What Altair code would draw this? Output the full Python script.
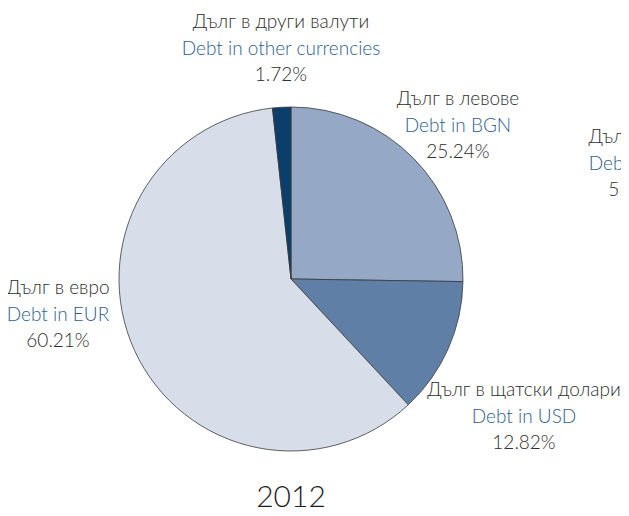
import altair as alt
import pandas as pd

# Data
categories_bg = ["Дълг в левове", "Дълг в щатски долари", "Дълг в евро", "Дълг в други валути"]
categories_en = ["Debt in BGN", "Debt in USD", "Debt in EUR", "Debt in other currencies"]
shares = [25.24, 12.82, 60.21, 1.72]
share_labels = ["25.24%", "12.82%", "60.21%", "1.72%"]
year_label = "2012"
colors = ["#95a8c6", "#5f7fa7", "#d7dde9", "#0b3e6b"]

# partially visible neighbouring chart (clipped at right edge)
next_bg = "Дълг в евро"
next_en = "Debt in EUR"
next_pct = "55.53%"

df = pd.DataFrame({
    "cat": categories_en,
    "share": shares,
    "order": list(range(len(shares))),
})

W, H = 613, 500
CX, CY, R = 283, 271, 172

pie = alt.Chart(df).mark_arc(
    radius=R, stroke="#3a3a3a", strokeWidth=0.8
).encode(
    theta=alt.Theta("share:Q", stack=True),
    order=alt.Order("order:Q"),
    color=alt.Color("cat:N", scale=alt.Scale(domain=categories_en, range=colors), legend=None),
    x=alt.value(CX),
    y=alt.value(CY),
)

FONT = "Lato Light, Lato"
FS = 19
GRAY = "#2e2e2e"
BLUE = "#2f5f90"

# label anchor positions (layout), index matches categories
anchors = [(450, 91), (516, 382), (50, 280), (273, 14)]

layers = [pie]
base = alt.Chart(pd.DataFrame({"a": [0]}))

def label(x, y, t1, t2, t3):
    out = []
    for i, (t, c) in enumerate([(t1, GRAY), (t2, BLUE), (t3, GRAY)]):
        out.append(
            base.mark_text(font=FONT, fontSize=FS, fontWeight=300, color=c,
                           align="center", baseline="middle").encode(
                x=alt.value(x), y=alt.value(y + i * 26.5), text=alt.value(t))
        )
    return out

for i in range(len(categories_bg)):
    ax, ay = anchors[i]
    layers += label(ax, ay, categories_bg[i], categories_en[i], share_labels[i])

layers += label(632, 129, next_bg, next_en, next_pct)

layers.append(
    base.mark_text(font=FONT, fontSize=30, fontWeight=300, color="#1e1e1e",
                   align="center", baseline="alphabetic").encode(
        x=alt.value(283), y=alt.value(499), text=alt.value(year_label))
)

chart = alt.layer(*layers).properties(
    width=W, height=H, padding=0, background="white",
    autosize=alt.AutoSizeParams(type="none"),
).configure_view(stroke="transparent", strokeWidth=0)

chart.save("out.html", embed_options={"renderer": "svg", "actions": False})
